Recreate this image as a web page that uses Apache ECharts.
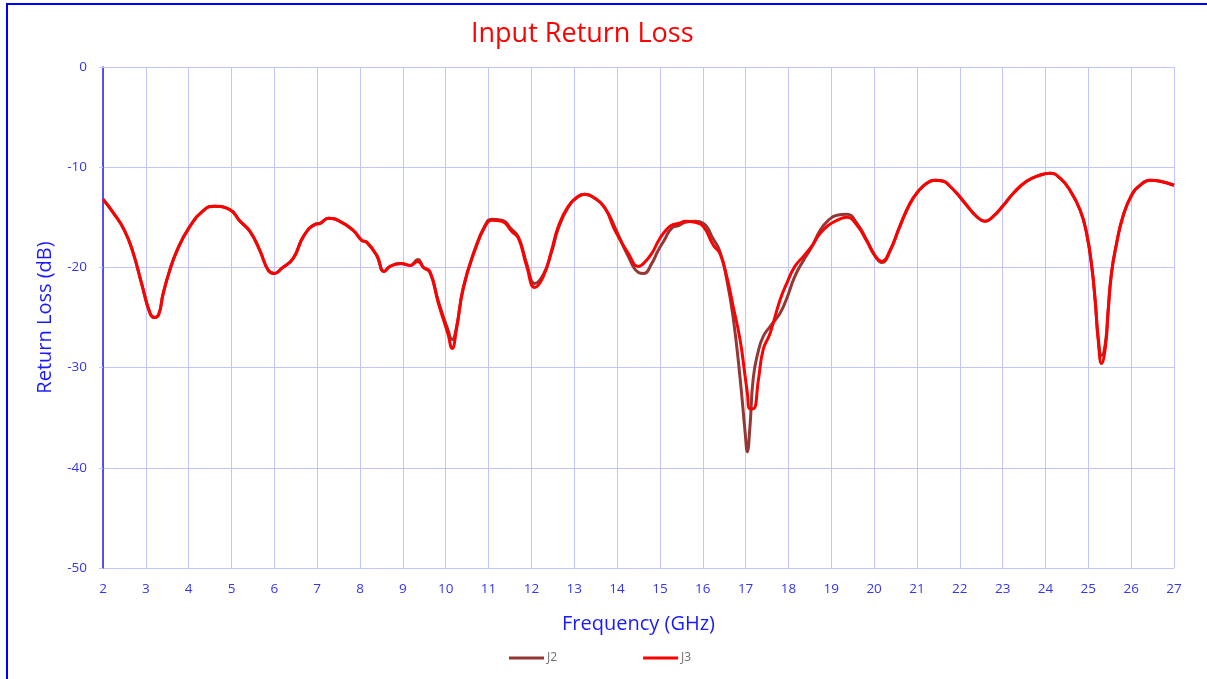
<!DOCTYPE html>
<html>
<head>
    <meta http-equiv="Content-Type" content="text/html; charset=utf-8" />
    <title>Input Return Loss</title>
    <style>
        html, body { margin: 0; padding: 0; background: #fff; }
        #chart { width: 1207px; height: 679px; }
    </style>
</head>
<body>
    <div id="chart"></div>
    <script src="https://cdn.jsdelivr.net/npm/echarts@6/dist/echarts.min.js" type="text/javascript"></script>
    <script type="text/javascript">
        // frequency points (GHz), shared by both traces
        var freq = [2.00, 2.25, 2.5, 2.7, 2.9, 3.1, 3.2, 3.3, 3.4, 3.55, 3.72, 4.0, 4.35, 4.6, 4.95,
            5.2, 5.43, 5.66, 5.86, 6.0, 6.17, 6.44, 6.68, 6.95, 7.07, 7.26, 7.53, 7.84, 8.04, 8.16,
            8.39, 8.56, 8.70, 8.95, 9.17, 9.35, 9.48, 9.63, 9.83, 10.05, 10.15, 10.25, 10.41, 10.68,
            10.92, 11.07, 11.31, 11.54, 11.70, 11.89, 12.08, 12.28, 12.47, 12.63, 12.86, 13.10, 13.25,
            13.48, 13.72, 13.95, 14.26, 14.50, 14.62, 14.81, 14.96, 15.1, 15.27, 15.45, 15.59, 15.82,
            16.01, 16.25, 16.40, 16.56, 16.71, 16.87, 16.99, 17.04, 17.10, 17.18, 17.30, 17.41, 17.57,
            17.80, 17.96, 18.15, 18.35, 18.54, 18.74, 18.93, 19.13, 19.36, 19.60, 19.83, 20.03, 20.18,
            20.37, 20.60, 20.84, 21.03, 21.23, 21.42, 21.62, 21.77, 21.93, 22.16, 22.39, 22.59, 22.78,
            23.02, 23.25, 23.56, 23.87, 24.11, 24.34, 24.57, 24.81, 24.96, 25.08, 25.16, 25.23, 25.31,
            25.40, 25.46, 25.54, 25.66, 25.81, 26.01, 26.21, 26.44, 26.68, 27.0];

        // return loss J3 (dB)
        var lossJ3 = [-13.2, -14.6, -16.3, -18.5, -21.6, -24.6, -25.0, -24.7, -22.7, -20.4, -18.4, -16.1, -14.3, -13.9, -14.2,
            -15.4, -16.4, -18.3, -20.3, -20.6, -20.1, -19.1, -16.9, -15.7, -15.6, -15.1, -15.4, -16.3, -17.3, -17.5,
            -18.8, -20.4, -19.9, -19.6, -19.8, -19.4, -20.0, -20.4, -23.6, -26.6, -28.1, -26.2, -22.1, -18.3,
            -15.9, -15.3, -15.4, -16.4, -17.1, -19.9, -22.0, -20.9, -18.3, -15.9, -13.9, -12.9, -12.7,
            -13.1, -14.1, -16.3, -18.6, -19.9, -19.6, -18.6, -17.4, -16.5, -15.8, -15.6, -15.4, -15.5,
            -15.9, -17.8, -18.6, -20.9, -23.9, -27.2, -30.9, -32.5, -34.1, -34.1, -31.2, -28.2, -26.6,
            -23.3, -21.6, -19.9, -18.9, -17.9, -16.6, -15.8, -15.3, -15.0, -15.8, -17.4, -18.9, -19.4,
            -18.3, -15.9, -13.6, -12.4, -11.6, -11.3, -11.4, -11.9, -12.6, -13.8, -14.9, -15.4, -14.9,
            -13.8, -12.6, -11.4, -10.8, -10.6, -11.1, -12.3, -14.3, -16.6, -19.9, -23.3, -27.2, -29.6,
            -27.9, -24.6, -20.6, -17.6, -14.9, -12.8, -11.8, -11.3, -11.4, -11.8];

        // return loss J2 (dB)
        var lossJ2 = [-13.2, -14.6, -16.3, -18.5, -21.6, -24.6, -25.0, -24.7, -22.7, -20.4, -18.4, -16.1, -14.3, -13.9, -14.2,
            -15.4, -16.4, -18.3, -20.3, -20.6, -20.1, -19.1, -16.9, -15.7, -15.6, -15.1, -15.4, -16.3, -17.3, -17.5,
            -18.8, -20.4, -19.9, -19.6, -19.8, -19.2, -20.0, -20.5, -23.4, -26.2, -27.2, -26.0, -22.0, -18.2,
            -15.8, -15.2, -15.3, -16.2, -17.0, -19.6, -21.6, -20.7, -18.5, -16.1, -14.0, -12.9, -12.7,
            -13.1, -14.1, -16.0, -18.9, -20.5, -20.6, -19.6, -18.3, -17.3, -16.1, -15.8, -15.5, -15.4,
            -15.6, -17.2, -18.4, -21.2, -25.0, -31.0, -36.5, -38.4, -36.0, -31.0, -28.3, -26.9, -25.9,
            -24.6, -23.1, -20.9, -19.3, -18.0, -16.3, -15.3, -14.8, -14.7, -15.6, -17.3, -18.9, -19.5,
            -18.4, -15.9, -13.6, -12.4, -11.6, -11.3, -11.4, -11.9, -12.6, -13.8, -14.9, -15.4, -14.9,
            -13.8, -12.6, -11.4, -10.8, -10.6, -11.1, -12.3, -14.3, -16.6, -19.9, -23.3, -27.0, -28.8,
            -27.5, -24.4, -20.6, -17.6, -14.9, -12.8, -11.8, -11.3, -11.4, -11.8];

        var seriesNames = ['J2', 'J3'];
        var seriesColors = ['#953735', '#ff0000'];

        function pairs(xs, ys) {
            var out = [];
            for (var i = 0; i < xs.length; i++) {
                out.push([xs[i], ys[i]]);
            }
            return out;
        }

        var chart = echarts.init(document.getElementById('chart'));
        var fontFam = '"Open Sans", "Noto Sans", sans-serif';
        var gridColor = '#c4c4ff';
        var labelColor = '#3535f0';

        var option = {
            backgroundColor: '#ffffff',
            animation: false,
            title: {
                text: 'Input Return Loss',
                left: 466,
                top: 16,
                textStyle: { color: '#ff0000', fontSize: 27, fontWeight: 'normal', fontFamily: fontFam }
            },
            legend: {
                data: seriesNames,
                bottom: 10,
                left: 504,
                itemWidth: 35,
                itemHeight: 3,
                itemGap: 86,
                icon: 'rect',
                textStyle: { color: '#707070', fontSize: 12, fontFamily: fontFam, padding: [0, 0, 0, -2] }
            },
            grid: { left: 103, right: 33, top: 67, bottom: 111 },
            xAxis: {
                type: 'value',
                min: 2,
                max: 27,
                interval: 1,
                name: 'Frequency (GHz)',
                nameLocation: 'middle',
                nameGap: 46,
                nameTextStyle: { color: '#1a1aff', fontSize: 20, fontFamily: fontFam },
                axisLine: { lineStyle: { color: gridColor, width: 1 } },
                axisTick: { show: false },
                axisLabel: { color: labelColor, fontSize: 13.5, margin: 14, fontFamily: fontFam },
                splitLine: { show: true, lineStyle: { color: gridColor, width: 1 } }
            },
            yAxis: {
                type: 'value',
                min: -50,
                max: 0,
                interval: 10,
                name: 'Return Loss (dB)',
                nameLocation: 'middle',
                nameGap: 48,
                nameTextStyle: { color: '#1a1aff', fontSize: 20, fontFamily: fontFam },
                axisLine: { show: true, lineStyle: { color: '#2020ff', width: 1.5 } },
                axisTick: { show: true, length: 4, lineStyle: { color: gridColor } },
                axisLabel: { color: labelColor, fontSize: 13.5, margin: 16, fontFamily: fontFam },
                splitLine: { show: true, lineStyle: { color: gridColor, width: 1 } }
            },
            graphic: [{
                type: 'rect',
                silent: true,
                z: 100,
                shape: { x: 7, y: 4, width: 1400, height: 900 },
                style: { fill: 'none', stroke: '#0000ff', lineWidth: 2 }
            }],
            series: [
                {
                    name: seriesNames[0],
                    type: 'line',
                    data: pairs(freq, lossJ2),
                    symbol: 'none',
                    smooth: 0.5,
                    lineStyle: { color: seriesColors[0], width: 3 },
                    itemStyle: { color: seriesColors[0] }
                },
                {
                    name: seriesNames[1],
                    type: 'line',
                    data: pairs(freq, lossJ3),
                    symbol: 'none',
                    smooth: 0.5,
                    lineStyle: { color: seriesColors[1], width: 3 },
                    itemStyle: { color: seriesColors[1] }
                }
            ]
        };
        chart.setOption(option);
    </script>
</body>
</html>
